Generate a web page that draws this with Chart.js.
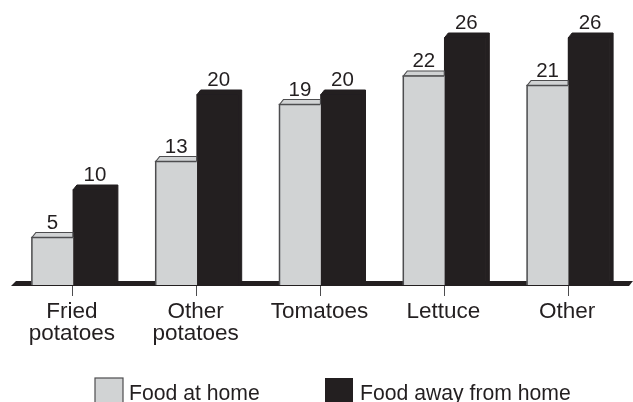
<!DOCTYPE html>
<html>
<head>
<meta charset="utf-8">
<script src="https://cdn.jsdelivr.net/npm/chart.js@4/dist/chart.umd.min.js"></script>
<style>
  html, body { margin: 0; padding: 0; background: #fff; overflow: hidden; }
  #wrap { width: 633px; height: 402px; }
</style>
</head>
<body>
<div id="wrap"><canvas id="chart" width="633" height="402"></canvas></div>
<script>
const categories = [["Fried", "potatoes"], ["Other", "potatoes"], "Tomatoes", "Lettuce", "Other"];
const foodAtHome = [5, 13, 19, 22, 21];
const foodAwayFromHome = [10, 20, 20, 26, 26];

const GREY = "#d1d3d4";
const BLACK = "#231f20";
const EDGE = "#4d4d4f";
const FAMILY = '"Liberation Sans", Arial, sans-serif';
const DEPTH_X = 4;
const DEPTH_Y = 5;

function poly(ctx, pts) {
  ctx.beginPath();
  pts.forEach((p, i) => (i ? ctx.lineTo(p[0], p[1]) : ctx.moveTo(p[0], p[1])));
  ctx.closePath();
}

// floor slab and the fake 3d faces of the bars
const depthPlugin = {
  id: "depth",
  beforeDatasetsDraw(chart) {
    const { ctx, chartArea } = chart;
    const base = chart.scales.y.getPixelForValue(0);
    ctx.save();
    ctx.fillStyle = BLACK;
    poly(ctx, [
      [chartArea.left, base + 1],
      [chartArea.left + 5, base - 4],
      [chart.width, base - 4],
      [chart.width - 4, base + 1],
    ]);
    ctx.fill();
    ctx.restore();
  },
  beforeDatasetDraw(chart, args) {
    const { ctx } = chart;
    ctx.save();
    chart.getDatasetMeta(args.index).data.forEach((bar) => {
      const left = bar.x - bar.width / 2;
      const right = bar.x + bar.width / 2;
      if (args.index === 0) {
        // grey top face stops where the black bar starts
        ctx.fillStyle = GREY;
        ctx.strokeStyle = EDGE;
        ctx.lineWidth = 1.2;
        poly(ctx, [
          [left, bar.y],
          [left + DEPTH_X, bar.y - DEPTH_Y],
          [right, bar.y - DEPTH_Y],
          [right, bar.y],
        ]);
        ctx.fill();
        ctx.stroke();
      } else {
        ctx.fillStyle = BLACK;
        ctx.strokeStyle = BLACK;
        ctx.lineWidth = 1;
        poly(ctx, [
          [left, bar.y],
          [left + DEPTH_X, bar.y - DEPTH_Y],
          [right + DEPTH_X, bar.y - DEPTH_Y],
          [right + DEPTH_X, bar.base],
          [right, bar.base],
          [right, bar.y],
        ]);
        ctx.fill();
        ctx.stroke();
      }
    });
    ctx.restore();
  },
  afterDatasetDraw(chart, args) {
    if (args.index !== 0) return;
    const { ctx } = chart;
    ctx.save();
    ctx.strokeStyle = EDGE;
    ctx.lineWidth = 1.5;
    chart.getDatasetMeta(0).data.forEach((bar) => {
      const left = bar.x - bar.width / 2;
      const right = bar.x + bar.width / 2;
      ctx.beginPath();
      ctx.moveTo(left, bar.base);
      ctx.lineTo(left, bar.y);
      ctx.lineTo(right, bar.y);
      ctx.stroke();
    });
    ctx.restore();
  },
  afterDraw(chart) {
    const { ctx } = chart;
    ctx.save();
    ctx.font = "20.5px " + FAMILY;
    ctx.fillStyle = BLACK;
    ctx.textAlign = "center";
    ctx.textBaseline = "alphabetic";
    chart.data.datasets.forEach((ds, i) => {
      chart.getDatasetMeta(i).data.forEach((bar, j) => {
        ctx.fillText(ds.data[j], bar.x + (i === 1 ? 1.5 : 0), bar.y - DEPTH_Y - 4);
      });
    });

    // legend
    const boxes = [95, 325];
    ctx.font = "21.2px " + FAMILY;
    chart.data.datasets.forEach((ds, i) => {
      ctx.fillStyle = ds.backgroundColor;
      ctx.fillRect(boxes[i], 378, 28, 24);
      if (i === 0) {
        ctx.strokeStyle = EDGE;
        ctx.lineWidth = 1.2;
        ctx.strokeRect(boxes[i], 378, 28, 26);
      }
      ctx.fillStyle = BLACK;
      ctx.textAlign = "left";
      ctx.fillText(ds.label, boxes[i] + (i === 0 ? 34 : 35), 400);
    });
    ctx.restore();
  },
};

new Chart(document.getElementById("chart"), {
  type: "bar",
  data: {
    labels: categories,
    datasets: [
      { label: "Food at home", data: foodAtHome, backgroundColor: GREY, barThickness: 41 },
      { label: "Food away from home", data: foodAwayFromHome, backgroundColor: BLACK, barThickness: 41 },
    ],
  },
  options: {
    responsive: false,
    animation: false,
    layout: { padding: { left: 11, right: 3, top: 0, bottom: 0 } },
    plugins: { legend: { display: false }, tooltip: { enabled: false } },
    scales: {
      x: {
        grid: { offset: false, drawOnChartArea: false, color: EDGE, tickLength: 11, lineWidth: 1 },
        border: { display: false },
        afterFit(scale) { scale.height = 117; },
        ticks: {
          color: BLACK,
          maxRotation: 0,
          autoSkip: false,
          padding: 5,
          labelOffset: -1,
          font: { family: FAMILY, size: 22.5, lineHeight: 0.98 },
        },
      },
      y: { display: false, min: 0, max: 30 },
    },
  },
  plugins: [depthPlugin],
});
</script>
</body>
</html>
